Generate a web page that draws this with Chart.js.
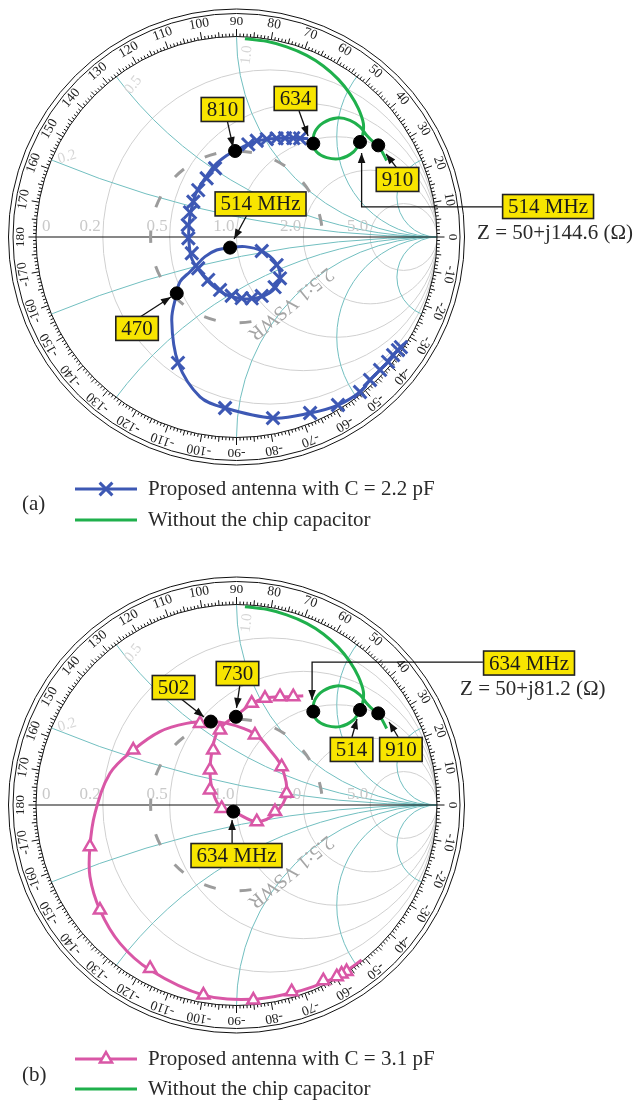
<!DOCTYPE html>
<html>
<head>
<meta charset="utf-8">
<script src="https://cdn.jsdelivr.net/npm/chart.js@4.4.1/dist/chart.umd.min.js"></script>
<style>
  body { margin: 0; background: #fff; }
  canvas { display: block; }
</style>
</head>
<body>
<canvas id="chartA" width="641" height="555"></canvas>
<canvas id="chartB" width="641" height="552"></canvas>
<script>
// reflection coefficient, [re, im]
const greenCurve = [
  [0.042, 0.989], [0.150, 0.976], [0.250, 0.948], [0.350, 0.906], [0.433, 0.853],
  [0.508, 0.786], [0.566, 0.714], [0.608, 0.640], [0.633, 0.565], [0.629, 0.507],
  [0.616, 0.474], [0.583, 0.424], [0.516, 0.391], [0.450, 0.396], [0.400, 0.424],
  [0.383, 0.466], [0.391, 0.524], [0.433, 0.570], [0.500, 0.594], [0.566, 0.582],
  [0.616, 0.549], [0.649, 0.507], [0.682, 0.474], [0.707, 0.457], [0.749, 0.382]
];
const greenDots = [[0.383, 0.466], [0.616, 0.474], [0.707, 0.457]];   // 634, 514, 910 MHz

const blueCurve = [
  [0.824, -0.547], [0.807, -0.564], [0.782, -0.589], [0.757, -0.622], [0.716, -0.663],
  [0.666, -0.713], [0.616, -0.773], [0.506, -0.838], [0.367, -0.878], [0.182, -0.903],
  [-0.057, -0.853], [-0.182, -0.797], [-0.290, -0.630], [-0.323, -0.414], [-0.298, -0.281],
  [-0.282, -0.223], [-0.232, -0.173], [-0.199, -0.140], [-0.157, -0.098], [-0.099, -0.065],
  [-0.032, -0.053], [0.042, -0.048], [0.126, -0.070], [0.192, -0.123], [0.217, -0.190],
  [0.192, -0.256], [0.126, -0.298], [0.042, -0.309], [-0.049, -0.289], [-0.124, -0.239],
  [-0.182, -0.173], [-0.224, -0.106], [-0.237, -0.023], [-0.237, 0.060], [-0.224, 0.143],
  [-0.199, 0.226], [-0.157, 0.293], [-0.107, 0.359], [-0.049, 0.406], [-0.007, 0.429],
  [0.059, 0.462], [0.142, 0.487], [0.225, 0.492], [0.308, 0.492], [0.358, 0.490]
];
const blueMarks = [
  [0.820, -0.549], [0.805, -0.564], [0.781, -0.589], [0.756, -0.623], [0.716, -0.663],
  [0.666, -0.713], [0.616, -0.773], [0.506, -0.838], [0.367, -0.878], [0.182, -0.903],
  [-0.057, -0.853], [-0.292, -0.628],
  [-0.223, -0.081], [-0.240, -0.006], [-0.243, 0.060], [-0.232, 0.123], [-0.215, 0.176],
  [-0.191, 0.234], [-0.149, 0.293], [-0.107, 0.343],
  [0.126, -0.070], [0.200, -0.140], [0.217, -0.206], [0.190, -0.250], [0.126, -0.294],
  [0.076, -0.306], [0.026, -0.305], [-0.024, -0.293], [-0.082, -0.264], [-0.141, -0.214],
  [-0.191, -0.156],
  [0.059, 0.462], [0.101, 0.480], [0.151, 0.488], [0.200, 0.492], [0.242, 0.493],
  [0.283, 0.493], [0.317, 0.492]
];
const blueDots = [[-0.298, -0.281], [-0.032, -0.053], [-0.007, 0.429]];   // 470, 514, 810 MHz

const pinkCurve = [
  [0.624, -0.773], [0.566, -0.815], [0.483, -0.864], [0.383, -0.906], [0.267, -0.939],
  [0.076, -0.969], [-0.165, -0.948], [-0.431, -0.823], [-0.581, -0.690], [-0.681, -0.524],
  [-0.731, -0.357], [-0.731, -0.208], [-0.706, -0.042], [-0.631, 0.158], [-0.515, 0.274],
  [-0.382, 0.366], [-0.249, 0.407], [-0.132, 0.416], [-0.049, 0.407], [0.034, 0.382],
  [0.101, 0.349], [0.167, 0.274], [0.225, 0.191], [0.250, 0.058], [0.192, -0.042],
  [0.101, -0.083], [-0.016, -0.033], [-0.074, -0.017], [-0.116, 0.058], [-0.132, 0.158],
  [-0.124, 0.258], [-0.099, 0.357], [-0.057, 0.407], [-0.007, 0.441], [0.067, 0.499],
  [0.134, 0.532], [0.209, 0.540], [0.275, 0.540], [0.333, 0.545]
];
const pinkMarks = [
  [0.549, -0.831], [0.524, -0.843], [0.500, -0.856], [0.433, -0.876], [0.275, -0.931],
  [0.084, -0.973], [-0.165, -0.948], [-0.431, -0.815], [-0.681, -0.524], [-0.731, -0.208],
  [-0.515, 0.274], [-0.182, 0.407], [0.092, 0.349], [0.225, 0.191], [0.250, 0.058],
  [0.192, -0.033], [0.101, -0.083], [-0.074, -0.017], [-0.132, 0.075], [-0.132, 0.175],
  [-0.116, 0.274], [-0.082, 0.374], [0.076, 0.507], [0.142, 0.532], [0.217, 0.540],
  [0.283, 0.540]
];
const pinkDots = [[-0.128, 0.416], [-0.003, 0.440], [-0.016, -0.033]];   // 502, 730, 634 MHz

const seriesA = ['Proposed antenna with C = 2.2 pF', 'Without the chip capacitor'];
const seriesB = ['Proposed antenna with C = 3.1 pF', 'Without the chip capacitor'];

// Smith chart grid and ring labels
const resistanceValues = [0.2, 0.5, 1, 2, 5];
const resistanceLabels = ['0', '0.2', '0.5', '1.0', '2.0', '5.0'];
const reactanceValues = [0.2, 0.5, 1, 2, 5];
const reactanceLabels = ['0.2', '0.5', '1.0'];
const ringLabels = [0, 10, 20, 30, 40, 50, 60, 70, 80, 90, 100, 110, 120, 130, 140, 150, 160, 170, 180,
  -170, -160, -150, -140, -130, -120, -110, -100, -90, -80, -70, -60, -50, -40, -30, -20, -10];
const vswr = 2.5;

const BLUE = '#3d58b4', GREEN = '#1fb04c', PINK = '#d957a6';
const R_PX = 200.5, CX_PX = 236.5;
const SERIF = '"Liberation Serif", "Times New Roman", serif';

const toXY = arr => arr.map(([re, im]) => ({ x: re, y: im }));

function drawTag(ctx, text, x, y) {
  ctx.font = '21px ' + SERIF;
  const w = ctx.measureText(text).width + 11, h = 24;
  ctx.fillStyle = '#f8e500';
  ctx.fillRect(x - w / 2, y - h / 2, w, h);
  ctx.strokeStyle = '#222';
  ctx.lineWidth = 1.6;
  ctx.strokeRect(x - w / 2, y - h / 2, w, h);
  ctx.fillStyle = '#1a1a1a';
  ctx.textAlign = 'center';
  ctx.textBaseline = 'middle';
  ctx.fillText(text, x, y + 1);
}

function drawArrow(ctx, pts) {
  ctx.strokeStyle = '#111';
  ctx.fillStyle = '#111';
  ctx.lineWidth = 1.3;
  ctx.beginPath();
  ctx.moveTo(pts[0][0], pts[0][1]);
  for (let i = 1; i < pts.length; i++) ctx.lineTo(pts[i][0], pts[i][1]);
  ctx.stroke();
  const [x1, y1] = pts[pts.length - 2], [x2, y2] = pts[pts.length - 1];
  const a = Math.atan2(y2 - y1, x2 - x1);
  ctx.beginPath();
  ctx.moveTo(x2, y2);
  ctx.lineTo(x2 - 10 * Math.cos(a) + 3.8 * Math.sin(a), y2 - 10 * Math.sin(a) - 3.8 * Math.cos(a));
  ctx.lineTo(x2 - 10 * Math.cos(a) - 3.8 * Math.sin(a), y2 - 10 * Math.sin(a) + 3.8 * Math.cos(a));
  ctx.closePath();
  ctx.fill();
}

function glyph(ctx, style, x, y, color) {
  ctx.strokeStyle = color;
  ctx.beginPath();
  if (style === 'crossRot') {
    ctx.lineWidth = 3;
    const d = 6.4;
    ctx.moveTo(x - d, y - d); ctx.lineTo(x + d, y + d);
    ctx.moveTo(x + d, y - d); ctx.lineTo(x - d, y + d);
    ctx.stroke();
  } else {
    ctx.lineWidth = 2.5;
    const r = 7;
    for (let k = 0; k < 3; k++) {
      const a = k * 2 * Math.PI / 3;
      const px = x + Math.sin(a) * r, py = y - Math.cos(a) * r;
      k ? ctx.lineTo(px, py) : ctx.moveTo(px, py);
    }
    ctx.closePath();
    ctx.fillStyle = '#fff';
    ctx.fill();
    ctx.stroke();
  }
}

function smithPlugin(spec) {
  return {
    id: 'smith',
    beforeDatasetsDraw(chart) {
      const { ctx, scales: { x, y } } = chart;
      const cx = x.getPixelForValue(0), cy = y.getPixelForValue(0);
      const R = x.getPixelForValue(1) - cx;
      const px = v => x.getPixelForValue(v), py = v => y.getPixelForValue(v);

      ctx.save();
      ctx.beginPath();
      ctx.arc(cx, cy, R, 0, 2 * Math.PI);
      ctx.clip();
      ctx.lineWidth = 1;
      ctx.strokeStyle = '#d0d0d0';
      resistanceValues.forEach(r => {
        ctx.beginPath();
        ctx.arc(px(r / (1 + r)), cy, R / (1 + r), 0, 2 * Math.PI);
        ctx.stroke();
      });
      ctx.strokeStyle = '#72bfc0';
      reactanceValues.forEach(xv => [1, -1].forEach(s => {
        ctx.beginPath();
        ctx.arc(px(1), py(s / xv), R / xv, 0, 2 * Math.PI);
        ctx.stroke();
      }));
      ctx.restore();

      // resistance labels along the real axis
      ctx.save();
      ctx.font = '17px ' + SERIF;
      ctx.fillStyle = '#c9c9c9';
      ctx.textBaseline = 'middle';
      [0].concat(resistanceValues).forEach((r, i) => {
        const g = (r - 1) / (r + 1);
        if (i === 0) { ctx.textAlign = 'left'; ctx.fillText(resistanceLabels[i], px(g) + 6, cy - 10); }
        else { ctx.textAlign = 'right'; ctx.fillText(resistanceLabels[i], px(g) - 2, cy - 10); }
      });
      ctx.font = '15px ' + SERIF;
      ctx.fillStyle = '#d6d6d6';
      ctx.textAlign = 'center';
      const xlPos = [[-0.845, 0.399, -0.3], [-0.515, 0.758, -0.9], [0.051, 0.908, -1.45]];
      reactanceLabels.forEach((t, i) => {
        ctx.save();
        ctx.translate(px(xlPos[i][0]), py(xlPos[i][1]));
        ctx.rotate(xlPos[i][2]);
        ctx.fillText(t, 0, 0);
        ctx.restore();
      });
      ctx.restore();

      // real axis
      ctx.save();
      ctx.strokeStyle = '#111';
      ctx.lineWidth = 1.2;
      ctx.beginPath();
      ctx.moveTo(px(-1), cy); ctx.lineTo(px(1), cy);
      ctx.stroke();

      // angle ring
      ctx.lineWidth = 1;
      [R, R + 23, R + 27.5].forEach(rr => {
        ctx.beginPath(); ctx.arc(cx, cy, rr, 0, 2 * Math.PI); ctx.stroke();
      });
      ctx.beginPath();
      for (let d = 0; d < 360; d++) {
        const len = d % 10 === 0 ? 7.5 : d % 5 === 0 ? 5 : 3;
        const a = d * Math.PI / 180;
        ctx.moveTo(cx + R * Math.cos(a), cy - R * Math.sin(a));
        ctx.lineTo(cx + (R + len) * Math.cos(a), cy - (R + len) * Math.sin(a));
      }
      ctx.stroke();
      ctx.fillStyle = '#222';
      ctx.font = '13.5px ' + SERIF;
      ctx.textAlign = 'center';
      ctx.textBaseline = 'middle';
      ringLabels.forEach(deg => {
        const a = deg * Math.PI / 180;
        ctx.save();
        ctx.translate(cx + (R + 15.5) * Math.cos(a), cy - (R + 15.5) * Math.sin(a));
        ctx.rotate(Math.PI / 2 - a);
        ctx.fillText(String(deg), 0, 0);
        ctx.restore();
      });

      // VSWR circle
      const rv = (vswr - 1) / (vswr + 1) * R;
      ctx.strokeStyle = '#9c9c9c';
      ctx.lineWidth = 3;
      ctx.setLineDash([12, 24]);
      ctx.beginPath();
      ctx.arc(cx, cy, rv, 80 * Math.PI / 180, 2 * Math.PI + 5 * Math.PI / 180);
      ctx.stroke();
      ctx.setLineDash([]);
      ctx.fillStyle = '#a5a5a5';
      ctx.font = '20px ' + SERIF;
      ctx.translate(cx + rv * Math.cos(0.89), cy + rv * Math.sin(0.89));
      ctx.rotate(0.89 + Math.PI / 2);
      ctx.fillText(vswr + ':1 VSWR', 0, 0);
      ctx.restore();
    },
    afterDatasetsDraw(chart) {
      const { ctx, scales: { x, y } } = chart;
      const P = ([re, im]) => [x.getPixelForValue(re), y.getPixelForValue(im)];
      ctx.save();
      spec.tags.forEach(t => {
        drawArrow(ctx, t.path.map(P));
        const [bx, by] = P(t.box);
        drawTag(ctx, t.text, bx, by);
      });
      const [zx, zy] = P(spec.zPos);
      ctx.font = '21px ' + SERIF;
      ctx.fillStyle = '#2a2a2a';
      ctx.textAlign = 'left';
      ctx.textBaseline = 'middle';
      ctx.fillText(spec.zText, zx, zy);

      // legend
      const lg = spec.legend;
      ctx.fillText(lg.tag, 22, lg.tagY);
      lg.names.forEach((name, i) => {
        const ly = lg.rows[i];
        ctx.strokeStyle = lg.colors[i];
        ctx.lineWidth = 3;
        ctx.beginPath(); ctx.moveTo(75, ly); ctx.lineTo(137, ly); ctx.stroke();
        if (i === 0) glyph(ctx, lg.marker, 106, ly, lg.colors[i]);
        ctx.fillStyle = '#2a2a2a';
        ctx.fillText(name, 148, ly);
      });
      ctx.restore();
    }
  };
}

function curveSet(label, data, color) {
  return { label, data: toXY(data), showLine: true, borderColor: color, borderWidth: 3,
           pointRadius: 0, tension: 0.35, fill: false };
}

function makeSmith(id, cy, datasets, spec) {
  const canvas = document.getElementById(id);
  return new Chart(canvas, {
    type: 'scatter',
    data: { datasets },
    options: {
      responsive: false,
      animation: false,
      events: [],
      layout: { padding: 0, autoPadding: false },
      scales: {
        x: { type: 'linear', display: false, min: -CX_PX / R_PX, max: (canvas.width - CX_PX) / R_PX },
        y: { type: 'linear', display: false, min: (cy - canvas.height) / R_PX, max: cy / R_PX }
      },
      plugins: { legend: { display: false }, tooltip: { enabled: false } }
    },
    plugins: [smithPlugin(spec)]
  });
}

makeSmith('chartA', 237, [
  { label: 'markers', data: toXY(blueDots.concat(greenDots)), pointStyle: 'circle', pointRadius: 6.5,
    backgroundColor: '#000', borderColor: '#000' },
  { label: 'crosses', data: toXY(blueMarks), pointStyle: 'crossRot', pointRadius: 9, borderWidth: 3,
    borderColor: BLUE },
  curveSet(seriesA[1], greenCurve, GREEN),
  curveSet(seriesA[0], blueCurve, BLUE)
], {
  tags: [
    { text: '810', box: [-0.070, 0.636], path: [[-0.047, 0.584], [-0.017, 0.449]] },
    { text: '634', box: [0.294, 0.691], path: [[0.312, 0.628], [0.357, 0.504]] },
    { text: '910', box: [0.803, 0.287], path: [[0.800, 0.344], [0.746, 0.414]] },
    { text: '514 MHz', box: [0.120, 0.165], path: [[0.052, 0.110], [-0.012, -0.010]] },
    { text: '470', box: [-0.496, -0.456], path: [[-0.481, -0.399], [-0.327, -0.299]] },
    { text: '514 MHz', box: [1.554, 0.152], path: [[1.324, 0.150], [0.624, 0.150], [0.624, 0.419]] }
  ],
  zPos: [1.2, 0.02],
  zText: 'Z = 50+j144.6 (\u03A9)',
  legend: { tag: '(a)', tagY: 504, rows: [489, 520], names: seriesA, colors: [BLUE, GREEN], marker: 'crossRot' }
});

makeSmith('chartB', 250, [
  { label: 'markers', data: toXY(pinkDots.concat(greenDots)), pointStyle: 'circle', pointRadius: 6.5,
    backgroundColor: '#000', borderColor: '#000' },
  { label: 'triangles', data: toXY(pinkMarks), pointStyle: 'triangle', pointRadius: 7, borderWidth: 2.5,
    borderColor: PINK, backgroundColor: '#fff' },
  curveSet(seriesB[1], greenCurve, GREEN),
  curveSet(seriesB[0], pinkCurve, PINK)
], {
  tags: [
    { text: '502', box: [-0.314, 0.586], path: [[-0.282, 0.534], [-0.162, 0.439]] },
    { text: '730', box: [0.005, 0.656], path: [[0.017, 0.599], [0.000, 0.484]] },
    { text: '514', box: [0.574, 0.277], path: [[0.576, 0.339], [0.601, 0.429]] },
    { text: '910', box: [0.820, 0.277], path: [[0.806, 0.339], [0.761, 0.414]] },
    { text: '634 MHz', box: [0.000, -0.252], path: [[-0.022, -0.190], [-0.022, -0.075]] },
    { text: '634 MHz', box: [1.459, 0.708], path: [[1.229, 0.713], [0.377, 0.713], [0.377, 0.524]] }
  ],
  zPos: [1.115, 0.574],
  zText: 'Z = 50+j81.2 (\u03A9)',
  legend: { tag: '(b)', tagY: 520, rows: [504, 534], names: seriesB, colors: [PINK, GREEN], marker: 'triangle' }
});
</script>
</body>
</html>
